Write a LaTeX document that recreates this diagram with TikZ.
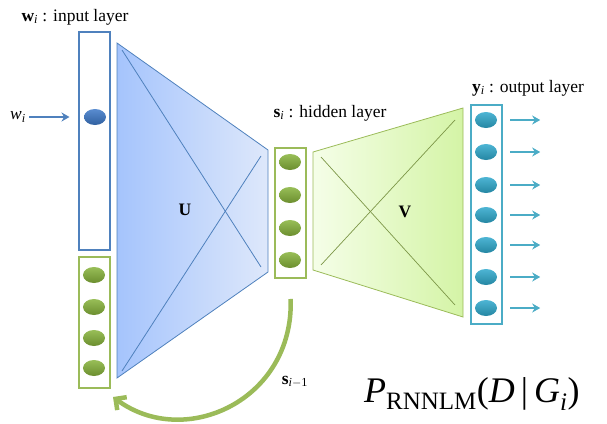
\documentclass[tikz,border=0pt]{standalone}
\usepackage{fontspec}
\setmainfont{Liberation Serif}
\usetikzlibrary{arrows.meta,shapes.geometric}

\definecolor{inblue}{HTML}{4F81BD}
\definecolor{hidgreen}{HTML}{9BBB59}
\definecolor{outcyan}{HTML}{4BACC6}
\definecolor{bluedot}{HTML}{3C78C8}
\definecolor{greendot}{HTML}{86B23A}
\definecolor{cyandot}{HTML}{2EA8CC}
\definecolor{uleft}{HTML}{A5C4FC}
\definecolor{uright}{HTML}{DEE8FB}
\definecolor{vleft}{HTML}{F5FEE8}
\definecolor{vright}{HTML}{D4F4A6}

\tikzset{
  layerbox/.style={draw=#1, line width=2pt, rectangle, minimum width=31pt, inner sep=0pt},
  unit/.style={ellipse, inner sep=0pt, minimum width=22pt, minimum height=16pt,
               top color=#1!85!white, bottom color=#1!80!black},
  lab/.style={font=\fontsize{17.5}{20}\selectfont},
  flowarr/.style={draw=#1, line width=2.2pt, -{Stealth[length=8pt,width=9pt]}},
}

\begin{document}
\begin{tikzpicture}[x=1pt,y=-1pt]
  \useasboundingbox (0,0) rectangle (607,423);

  % weight maps
  \shade[left color=uleft, right color=uright, draw=inblue, line width=0.8pt]
    (117,43) -- (268,150) -- (268,272) -- (117,378) -- cycle;
  \draw[inblue, line width=0.8pt] (122,50) -- (261,267);
  \draw[inblue, line width=0.8pt] (122,371) -- (261,156);
  \node[lab] (U) at (185,210) {\textbf{U}};

  \shade[left color=vleft, right color=vright, draw=hidgreen, line width=0.8pt]
    (313,152) -- (463,108) -- (463,317) -- (313,270) -- cycle;
  \draw[hidgreen!80!black, line width=0.7pt] (321,157) -- (455,305);
  \draw[hidgreen!80!black, line width=0.7pt] (321,265) -- (455,120);
  \node[lab] (V) at (405,212) {\textbf{V}};

  % layers
  \node[layerbox=inblue, minimum height=218pt] (inp) at (94,141) {};
  \node[layerbox=hidgreen, minimum height=131pt] (ctx) at (94,322.5) {};
  \node[layerbox=hidgreen, minimum height=130pt] (hid) at (290,213) {};
  \node[layerbox=outcyan, minimum height=219pt] (out) at (486,214.5) {};

  \node[unit=bluedot] (w) at (95,117) {};
  \foreach \y [count=\i] in {275,307,338,368}
    \node[unit=greendot] (c\i) at (94,\y) {};
  \foreach \y [count=\i] in {162,195,228,260}
    \node[unit=greendot] (h\i) at (290,\y) {};
  \foreach \y [count=\i] in {120,152,185,215,245,277,308}
  {
    \node[unit=cyandot] (y\i) at (486,\y) {};
    \draw[flowarr=outcyan] ([xshift=13pt]y\i.east) -- ++(30,0);
  }

  % labels
  \node[lab] (inlab) at (75,17) {\textbf{w}\textsubscript{\textit{i}} : input layer};
  \node[lab] (hidlab) at (330,113) {\textbf{s}\textsubscript{\textit{i}} : hidden layer};
  \node[lab] (outlab) at (528,88) {\textbf{y}\textsubscript{\textit{i}} : output layer};
  \node[lab] (wl) at (18,117) {\textit{w}\textsubscript{\textit{i}}};
  \draw[flowarr=inblue, shorten >=8pt] (wl.east) -- (wl.east -| inp.west);

  % recurrence
  \draw[hidgreen, line width=4.5pt, shorten <=20pt, -{Straight Barb[length=8pt,width=16pt]}]
    (hid.south) .. controls (294,400) and (185,450) .. (113,397);
  \node[lab] (slab) at (295,382) {\textbf{s}\textsubscript{\textit{i}$-$1}};

  \node[font=\fontsize{36}{40}\selectfont, anchor=base west, inner sep=0pt] (prob) at (364,402)
    {\textit{P}\textsubscript{\fontsize{25}{28}\selectfont RNNLM}(\textit{D}\,|\,\textit{G}\textsubscript{\textit{i}})};
\end{tikzpicture}
\end{document}
